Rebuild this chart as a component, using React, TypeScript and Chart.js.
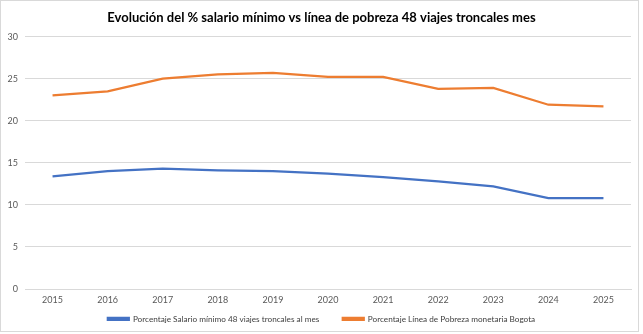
import React, { useEffect, useRef } from "react";
import { Chart, registerables } from "chart.js";

Chart.register(...registerables);

const years = ["2015", "2016", "2017", "2018", "2019", "2020", "2021", "2022", "2023", "2024", "2025"];
const salarioMinimo = [13.4, 14.0, 14.3, 14.1, 14.0, 13.7, 13.3, 12.8, 12.2, 10.8, 10.8];
const lineaPobreza = [23.0, 23.5, 25.0, 25.5, 25.7, 25.2, 25.2, 23.8, 23.9, 21.9, 21.7];
const seriesNames = [
  "Porcentaje Salario mínimo 48 viajes troncales al mes",
  "Porcentaje Línea de Pobreza monetaria Bogota",
];
const titleText = "Evolución del % salario mínimo vs línea de pobreza 48 viajes troncales mes";

const FONT = "Lato, 'Open Sans', sans-serif";
const GAP = "\u2002\u2002\u2002\u2002\u2002";

const widenYAxisClip = {
  id: "widenYAxisClip",
  afterLayout(chart: any) {
    const y = chart.scales.y;
    if (y) y.left = 0;
  },
};

export default function App() {
  const ref = useRef<HTMLCanvasElement | null>(null);
  useEffect(() => {
    if (!ref.current) return;
    const chart = new Chart(ref.current, {
      type: "line",
      plugins: [widenYAxisClip],
      data: {
        labels: years,
        datasets: [
          {
            label: seriesNames[0],
            data: salarioMinimo,
            borderColor: "#4472C4",
            backgroundColor: "#4472C4",
            borderWidth: 2.25,
            pointRadius: 0,
            tension: 0,
          },
          {
            label: seriesNames[1],
            data: lineaPobreza,
            borderColor: "#ED7D31",
            backgroundColor: "#ED7D31",
            borderWidth: 2.25,
            pointRadius: 0,
            tension: 0,
          },
        ],
      },
      options: {
        animation: false,
        responsive: true,
        maintainAspectRatio: false,
        layout: { padding: { left: 12, right: 12, top: 0, bottom: 1 } },
        plugins: {
          title: {
            display: true,
            text: titleText,
            color: "#000",
            font: { family: FONT, size: 13, weight: "bold" },
            padding: { top: 10, bottom: 11 },
          },
          legend: {
            position: "bottom",
            labels: {
              boxWidth: 21,
              boxHeight: 2,
              padding: 3,
              color: "#404040",
              font: { family: FONT, size: 8.2 },
              generateLabels: (c: any) => {
                const base = Chart.defaults.plugins.legend.labels.generateLabels(c);
                return base.map((item: any, i: number) =>
                  i < base.length - 1 ? { ...item, text: item.text + GAP } : item
                );
              },
            },
          },
          tooltip: { enabled: false },
        },
        scales: {
          x: {
            offset: true,
            grid: { display: false, drawTicks: false },
            border: { display: true, color: "#d9d9d9" },
            ticks: { color: "#595959", font: { family: FONT, size: 9 }, padding: 6, maxRotation: 0 },
          },
          y: {
            min: 0,
            max: 30,
            afterFit: (s: any) => { s.width = 13; },
            grid: { color: "#d9d9d9", drawTicks: false },
            border: { display: false },
            ticks: { stepSize: 5, color: "#595959", font: { family: FONT, size: 9 }, padding: 7 },
          },
        },
      },
    });
    return () => chart.destroy();
  }, []);
  return (
    <div style={{ position: "fixed", left: 0, top: 0, width: 643, height: 334, background: "#fff" }}>
      <div style={{ position: "absolute", left: 0, top: 0, width: 639, height: 332, border: "1px solid #d9d9d9", boxSizing: "border-box" as any }} />
      <div style={{ position: "absolute", left: 0, top: 0, width: 643, height: 334 }}>
        <canvas ref={ref} />
      </div>
    </div>
  );
}
